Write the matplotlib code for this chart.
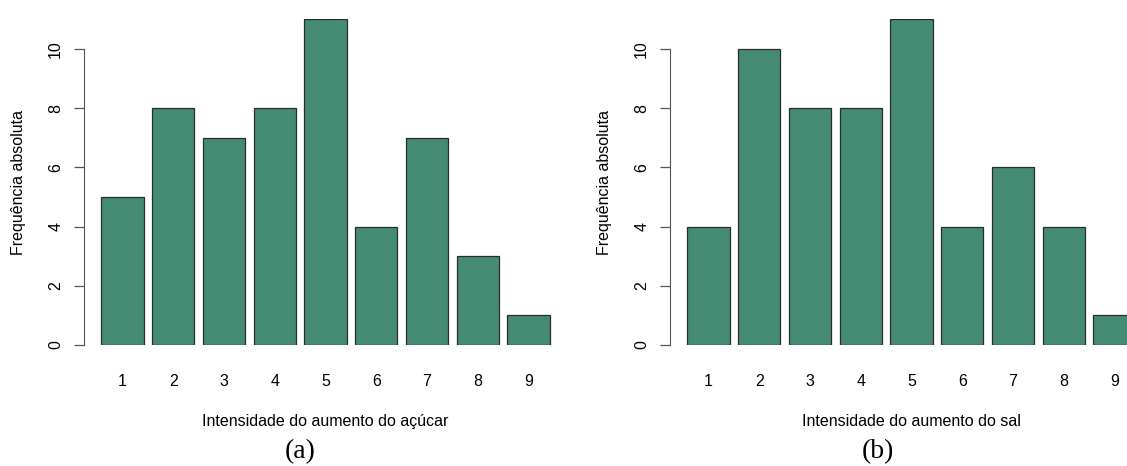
import numpy as np
import matplotlib.pyplot as plt

# frequency of each intensity level for the two tastings
niveis = ['1', '2', '3', '4', '5', '6', '7', '8', '9']
freq_acucar = [5, 8, 7, 8, 11, 4, 7, 3, 1]
freq_sal = [4, 10, 8, 8, 11, 4, 6, 4, 1]

xlabels = ['Intensidade do aumento do açúcar', 'Intensidade do aumento do sal']
paineis = ['(a)', '(b)']

plt.rcParams['font.family'] = ['Liberation Sans', 'DejaVu Sans']
plt.rcParams['font.size'] = 11.5

W, H = 1127, 466
fig = plt.figure(figsize=(W / 100, H / 100), dpi=100)

cor = '#458B74'
# barplot-like positions: width 1, gap 0.2
pos = 0.7 + 1.2 * np.arange(len(niveis))


def painel(left_px, freq, xlab):
    bottom_px, top_px = 345, 19.4
    width_px = 483
    ax = fig.add_axes([left_px / W, (H - bottom_px) / H, width_px / W, (bottom_px - top_px) / H])
    ax.bar(pos, freq, width=1.0, color=cor, edgecolor='#2b2b2b', linewidth=0.9)
    ax.set_xlim(-0.21, 11.21)
    ax.set_ylim(0, 11)
    for s in ['top', 'right', 'bottom']:
        ax.spines[s].set_visible(False)
    ax.spines['left'].set_bounds(0, 10)
    ax.spines['left'].set_color('#555555')
    ax.set_yticks(range(0, 11, 2))
    ax.tick_params(axis='y', length=7, width=0.9, color='#555555', pad=8)
    for t in ax.get_yticklabels():
        t.set_rotation(90)
        t.set_va('center')
    ax.set_xticks(pos)
    ax.set_xticklabels(niveis)
    ax.tick_params(axis='x', length=0, pad=21)
    ax.set_xlabel(xlab, labelpad=18)
    ax.set_ylabel('Frequência absoluta', labelpad=16)
    return ax


painel(84, freq_acucar, xlabels[0])
painel(670, freq_sal, xlabels[1])

fig.text(300 / W, 1 - 452 / H, paineis[0], ha='center', va='center',
         family='Liberation Serif', fontsize=20)
fig.text(878 / W, 1 - 452 / H, paineis[1], ha='center', va='center',
         family='Liberation Serif', fontsize=20)

fig.savefig('out.png', dpi=100)
